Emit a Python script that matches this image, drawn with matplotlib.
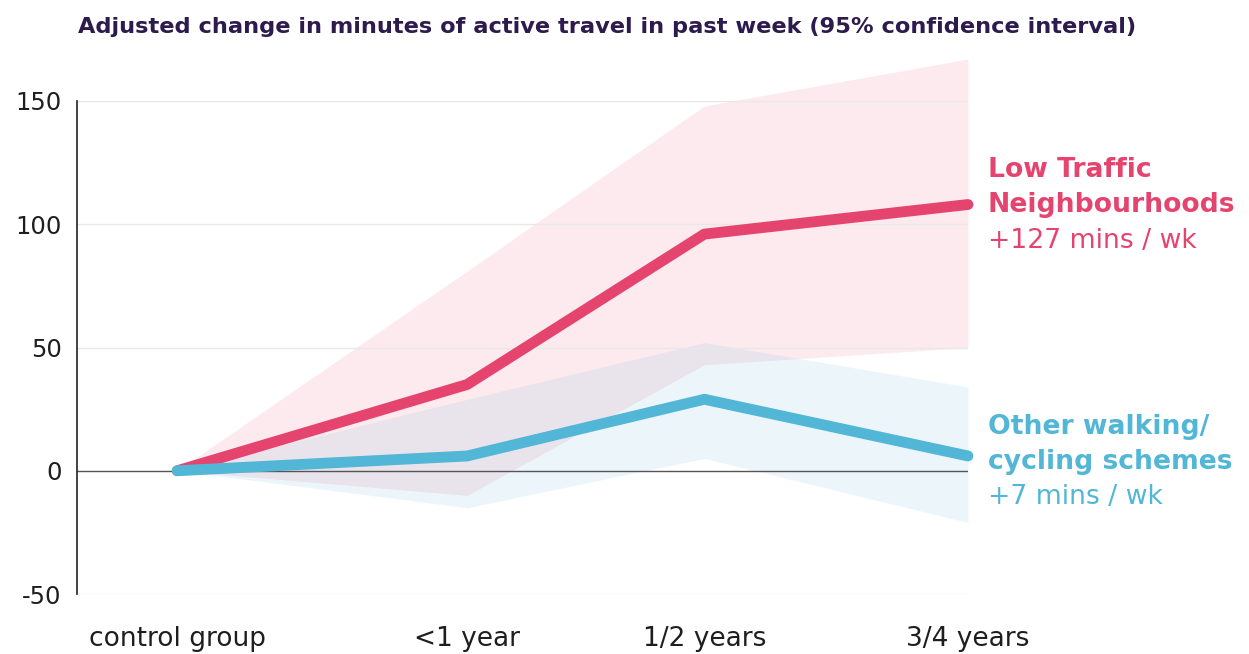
import numpy as np
import matplotlib.pyplot as plt

# data
groups = ["control group", "<1 year", "1/2 years", "3/4 years"]
group_pos = [0.0, 1.1, 2.0, 3.0]

ltn_mean = [0, 35, 96, 108]
ltn_low = [0, -10, 43, 50]
ltn_high = [0, 81, 148, 167]

other_mean = [0, 6, 29, 6]
other_low = [0, -15, 5, -21]
other_high = [0, 29, 52, 34]

yticks = [-50, 0, 50, 100, 150]

PINK = "#E5446F"
BLUE = "#52B6D6"
TITLE_COL = "#2D1B4E"
TEXT_COL = "#1E1E1E"

plt.rcParams['font.family'] = ['DejaVu Sans']

fig = plt.figure(figsize=(12.49, 6.54), dpi=100)
ax = fig.add_axes([0.0617, 0.0917, 0.7133, 0.7539])

ax.fill_between(group_pos, ltn_low, ltn_high, color=PINK, alpha=0.11,
                linewidth=0, clip_on=False)
ax.fill_between(group_pos, other_low, other_high, color=BLUE, alpha=0.11,
                linewidth=0, clip_on=False)

ax.axhline(0, color="#555555", lw=1.0, zorder=2)
for y in yticks:
    if y != 0:
        ax.axhline(y, color="#E8E8E8", lw=1.0, zorder=1)

ax.plot(group_pos, ltn_mean, color=PINK, lw=7.8, solid_capstyle="round",
        solid_joinstyle="round", zorder=4, clip_on=False)
ax.plot(group_pos, other_mean, color=BLUE, lw=7.8, solid_capstyle="round",
        solid_joinstyle="round", zorder=5, clip_on=False)

ax.set_xlim(-0.38, 3.0)
ax.set_ylim(-50, 150)
ax.set_yticks(yticks)
ax.set_yticklabels([str(v) for v in yticks])
ax.set_xticks(group_pos)
ax.set_xticklabels(groups)
ax.tick_params(axis="both", length=0, colors=TEXT_COL)
ax.tick_params(axis="x", pad=23, labelsize=19)
ax.tick_params(axis="y", pad=11, labelsize=17.5)

for s in ["top", "right", "bottom"]:
    ax.spines[s].set_visible(False)
ax.spines["left"].set_color("#222222")
ax.spines["left"].set_linewidth(1.2)

fig.text(0.0625, 0.958, "Adjusted change in minutes of active travel in past week (95% confidence interval)",
         fontsize=16.2, fontweight="bold", color=TITLE_COL, va="center", ha="left")

# series labels on the right
lx = 0.791
fs = 19.2
fig.text(lx, 0.740, "Low Traffic", fontsize=fs, fontweight="bold", color=PINK, va="center")
fig.text(lx, 0.686, "Neighbourhoods", fontsize=fs, fontweight="bold", color=PINK, va="center")
fig.text(lx, 0.631, "+127 mins / wk", fontsize=fs, color=PINK, va="center")

fig.text(lx, 0.347, "Other walking/", fontsize=fs, fontweight="bold", color=BLUE, va="center")
fig.text(lx, 0.293, "cycling schemes", fontsize=fs, fontweight="bold", color=BLUE, va="center")
fig.text(lx, 0.240, "+7 mins / wk", fontsize=fs, color=BLUE, va="center")

plt.savefig("out.png", dpi=100)
